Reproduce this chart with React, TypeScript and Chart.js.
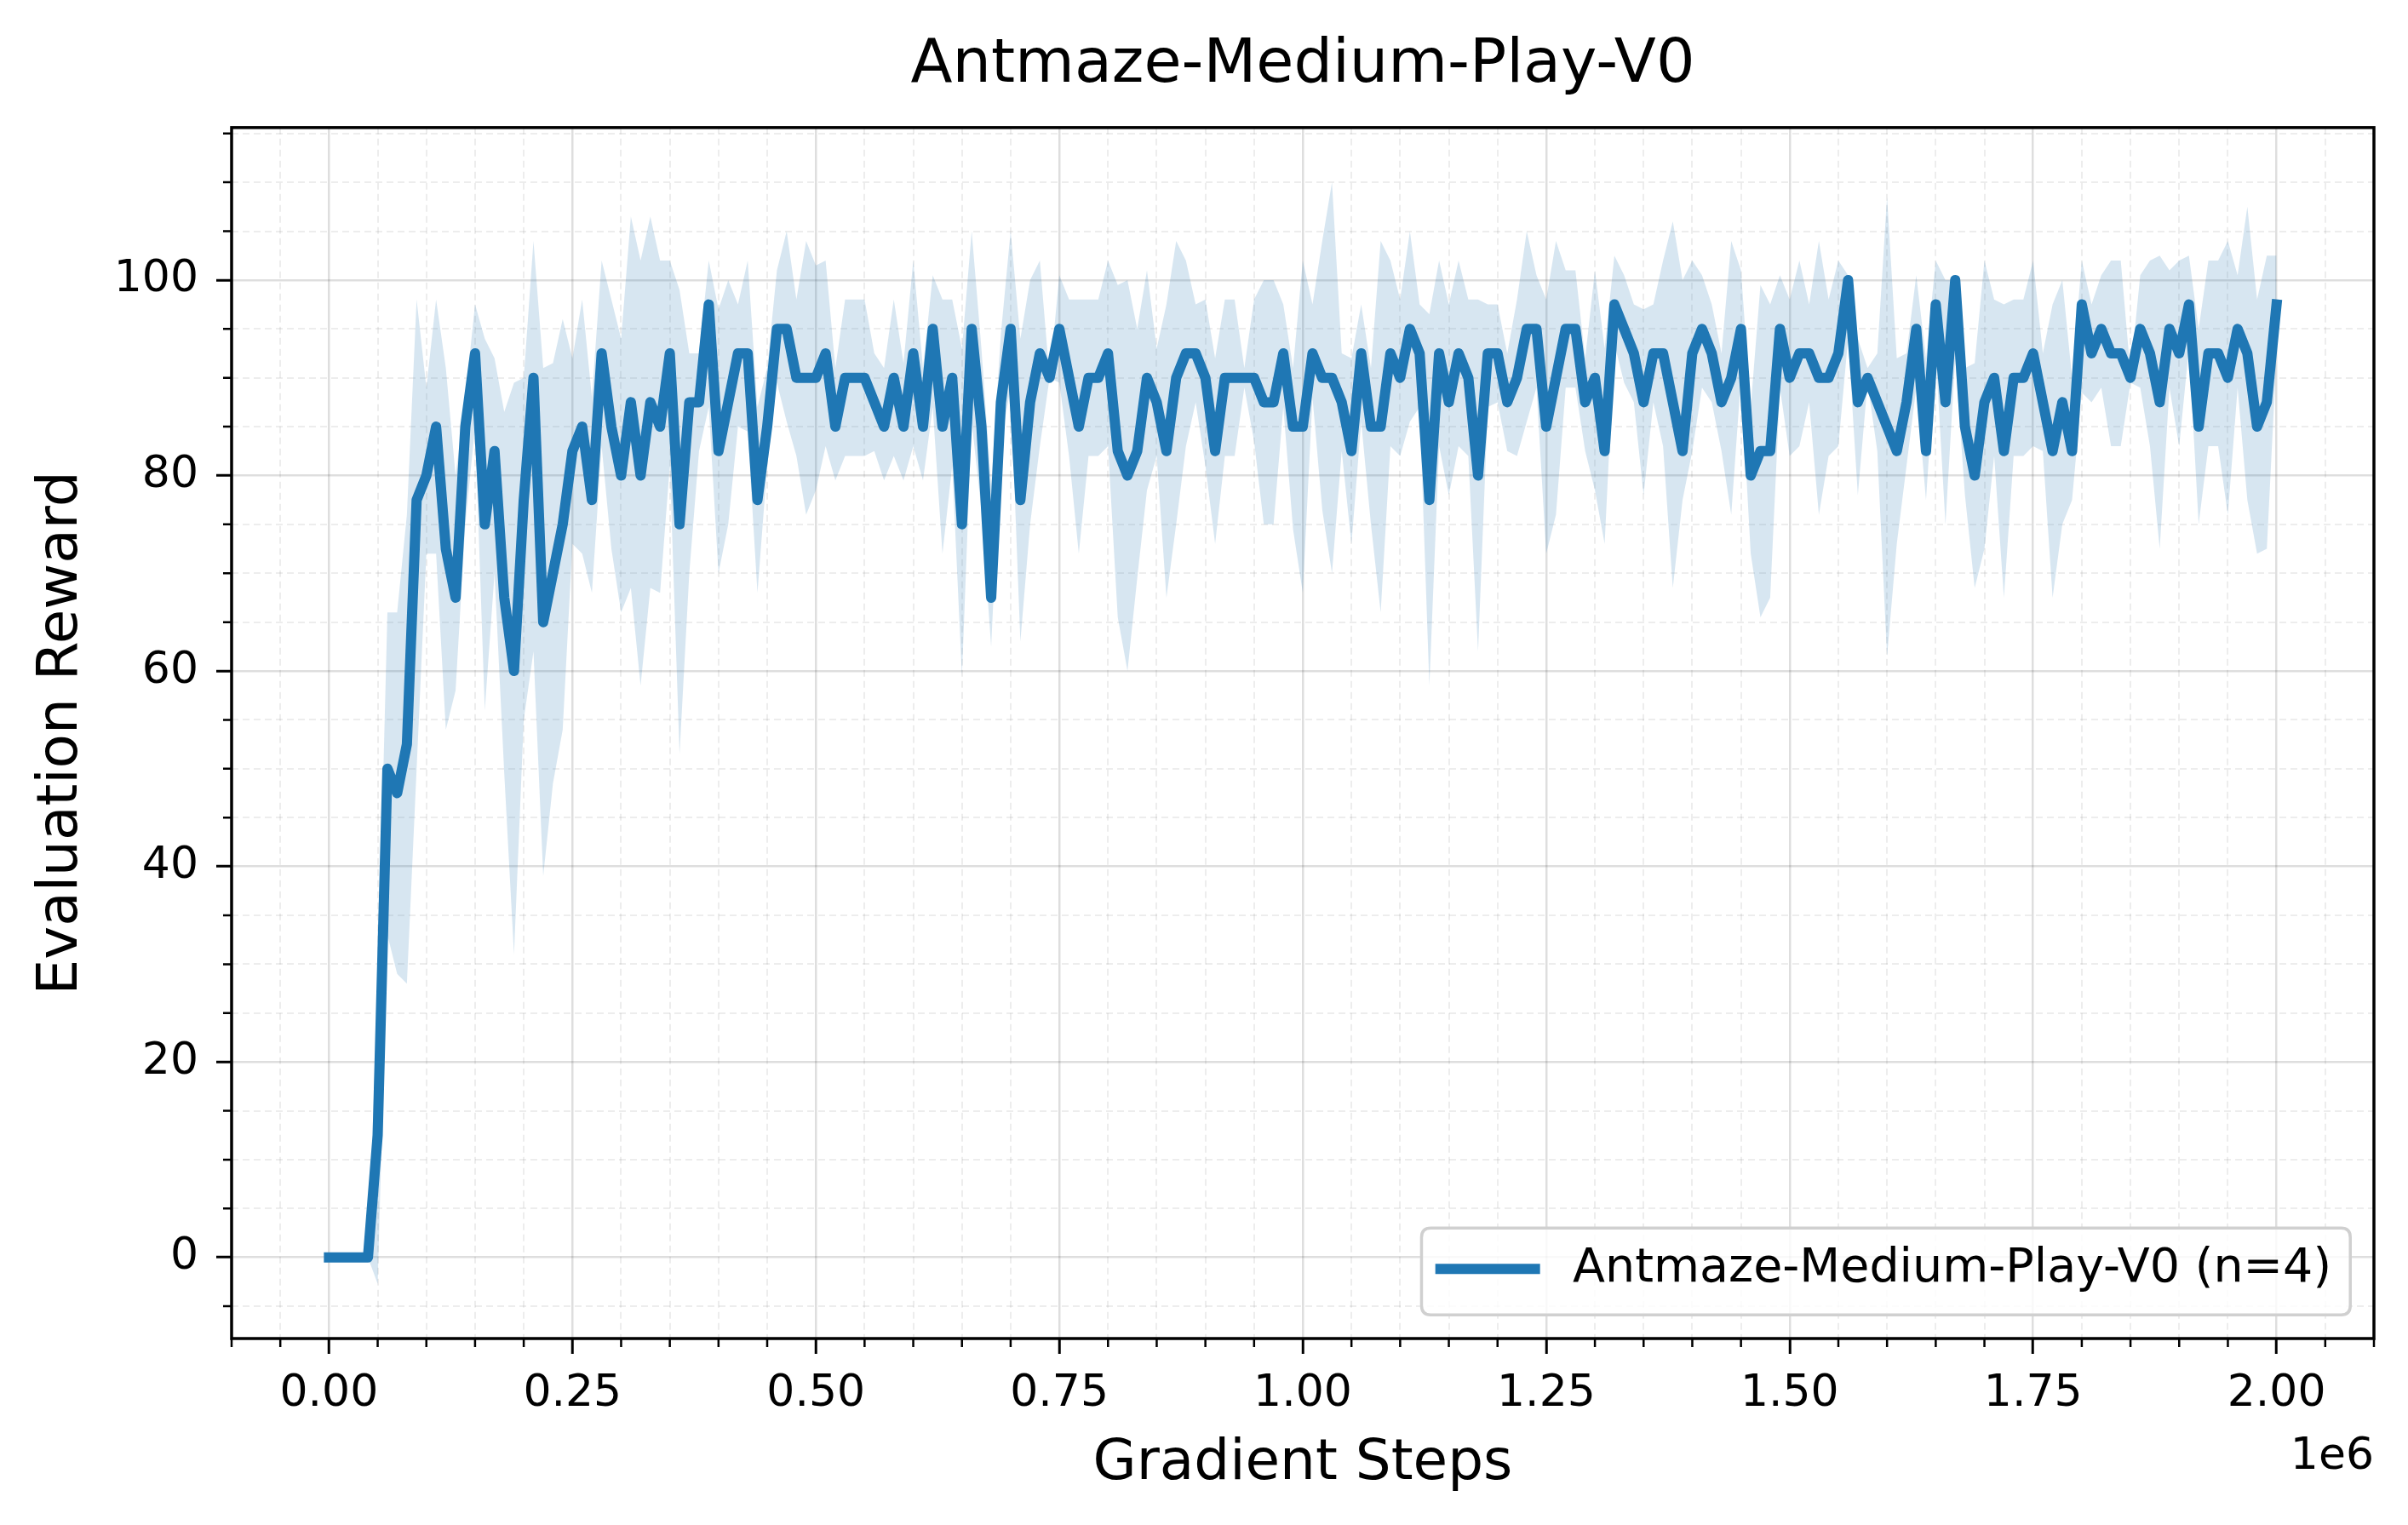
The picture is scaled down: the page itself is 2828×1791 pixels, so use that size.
import React, { useEffect, useRef } from 'react';
import { Chart, registerables } from 'chart.js';

Chart.register(...registerables);

const TITLE = 'Antmaze-Medium-Play-V0';
const SERIES_LABEL = 'Antmaze-Medium-Play-V0 (n=4)';
const X_LABEL = 'Gradient Steps';
const Y_LABEL = 'Evaluation Reward';
const X_OFFSET_LABEL = '1e6';
const EVAL_INTERVAL = 10000;

const MEAN = [
  0, 0, 0, 0, 0, 12.5, 50, 47.5, 52.5, 77.5,
  80, 85, 72.5, 67.5, 85, 92.5, 75, 82.5, 67.5, 60,
  77.5, 90, 65, 70, 75, 82.5, 85, 77.5, 92.5, 85,
  80, 87.5, 80, 87.5, 85, 92.5, 75, 87.5, 87.5, 97.5,
  82.5, 87.5, 92.5, 92.5, 77.5, 85, 95, 95, 90, 90,
  90, 92.5, 85, 90, 90, 90, 87.5, 85, 90, 85,
  92.5, 85, 95, 85, 90, 75, 95, 85, 67.5, 87.5,
  95, 77.5, 87.5, 92.5, 90, 95, 90, 85, 90, 90,
  92.5, 82.5, 80, 82.5, 90, 87.5, 82.5, 90, 92.5, 92.5,
  90, 82.5, 90, 90, 90, 90, 87.5, 87.5, 92.5, 85,
  85, 92.5, 90, 90, 87.5, 82.5, 92.5, 85, 85, 92.5,
  90, 95, 92.5, 77.5, 92.5, 87.5, 92.5, 90, 80, 92.5,
  92.5, 87.5, 90, 95, 95, 85, 90, 95, 95, 87.5,
  90, 82.5, 97.5, 95, 92.5, 87.5, 92.5, 92.5, 87.5, 82.5,
  92.5, 95, 92.5, 87.5, 90, 95, 80, 82.5, 82.5, 95,
  90, 92.5, 92.5, 90, 90, 92.5, 100, 87.5, 90, 87.5,
  85, 82.5, 87.5, 95, 82.5, 97.5, 87.5, 100, 85, 80,
  87.5, 90, 82.5, 90, 90, 92.5, 87.5, 82.5, 87.5, 82.5,
  97.5, 92.5, 95, 92.5, 92.5, 90, 95, 92.5, 87.5, 95,
  92.5, 97.5, 85, 92.5, 92.5, 90, 95, 92.5, 85, 87.5,
  97.5,
];

const UPPER = [
  0, 0, 0, 0, 0, 27, 66, 66, 76, 98,
  89, 98, 91, 80, 88, 97.5, 94, 92, 86.5, 89.5,
  90, 104, 91, 91.5, 96, 92, 98, 88, 102, 98,
  94, 106.5, 102, 106.5, 102, 102, 99, 92.5, 92.5, 102,
  97, 100, 97.5, 102, 87, 91, 101, 105, 98, 104,
  101.5, 102, 91, 98, 98, 98, 92.5, 91, 98, 91.5,
  102, 91, 100.5, 98, 98, 93, 105, 93, 79, 94.5,
  105, 94, 100, 102, 90, 100.5, 98, 98, 98, 98,
  102, 99.5, 100, 95, 101, 93, 97.5, 104, 102, 97.5,
  98, 92, 98, 98, 91, 98, 100, 100, 97.5, 91,
  102, 97.5, 104, 110, 92.5, 92, 97.5, 91, 104, 102,
  98, 105, 97.5, 96.5, 102, 97.5, 102, 98, 98, 97.5,
  97.5, 92.5, 98, 105, 100.5, 98, 104, 101, 101, 92,
  101, 93, 102.5, 100.5, 97.5, 97, 97.5, 102, 106, 100,
  102, 100.5, 97.5, 92.5, 104, 101, 87, 99.5, 97.5, 100.5,
  98, 102, 97.5, 104, 98, 102, 100.5, 94, 91, 92.5,
  108.5, 92, 92.5, 100.5, 92, 102, 100, 100, 91, 91.5,
  102, 98, 97.5, 98, 98, 102, 92.5, 97.5, 100, 90,
  102, 97.5, 100.5, 102, 102, 90.5, 100.5, 102, 102.5, 101,
  102, 102.5, 95, 102, 102, 104, 100.5, 107.5, 98, 102.5,
  102.5,
];

const LOWER = [
  0, 0, 0, 0, 0, -2.7, 33, 29, 28, 50,
  72, 72, 54, 58, 75, 85, 56, 70, 49.5, 31,
  55, 62, 39, 48.5, 54, 73, 72, 68, 83, 72.5,
  66, 68.5, 58.5, 68.5, 68, 81, 51.5, 70, 82.5, 87,
  70, 75, 85, 84.5, 68, 81, 89.5, 85.5, 82, 76,
  78.5, 83, 79.5, 82, 82, 82, 82.5, 79.5, 82, 79.5,
  83, 79.5, 87, 72, 81, 59.5, 85.5, 76.5, 62.5, 83.5,
  89, 63, 75, 83, 90, 89.5, 82, 72, 82, 82,
  83, 65.5, 60, 69.5, 78.5, 82, 67.5, 75, 83, 87.5,
  81, 73, 82, 82, 89, 83.5, 75, 75, 87, 74.5,
  68, 88, 76.5, 70, 82.5, 73, 85.5, 75, 66, 83,
  82, 85.5, 87, 58.5, 83, 78, 83, 82, 62, 87,
  87.5, 82.5, 82, 85.5, 89, 72, 76, 89, 89, 82.5,
  78.5, 73, 93.5, 89.5, 87.5, 78, 87.5, 83, 68.5, 77.5,
  82.5, 89, 87.5, 82.5, 76, 90, 72, 65.5, 67.5, 89,
  82, 83, 87.5, 76, 82, 83, 94, 78, 89.5, 82.5,
  61.5, 73, 81, 89, 77.5, 92.5, 75, 92, 78, 68.5,
  72.5, 82, 67.5, 82, 82, 83, 82.5, 67.5, 75, 77.5,
  88.5, 87.5, 89, 83, 83, 89.5, 89, 83, 72.5, 89,
  83, 93, 75, 83, 83, 76, 89, 77.5, 72, 72.5,
  92.5,
];

const X_TICKS = [
  -100000, -50000, 0, 50000, 100000, 150000, 200000, 250000, 300000, 350000,
  400000, 450000, 500000, 550000, 600000, 650000, 700000, 750000, 800000, 850000,
  900000, 950000, 1000000, 1050000, 1100000, 1150000, 1200000, 1250000, 1300000, 1350000,
  1400000, 1450000, 1500000, 1550000, 1600000, 1650000, 1700000, 1750000, 1800000, 1850000,
  1900000, 1950000, 2000000, 2050000, 2100000,
];
const Y_TICKS = [
  -5, 0, 5, 10, 15, 20, 25, 30, 35, 40, 45, 50, 55, 60, 65, 70, 75, 80, 85, 90, 95, 100, 105, 110, 115,
];
const X_MAJOR_STEP = 250000;
const Y_MAJOR_STEP = 20;
const X_MIN = -100000;
const X_MAX = 2100000;
const Y_MIN = -8.3;
const Y_MAX = 115.6;

const FONT = 'DejaVu Sans';
const LINE_COLOR = '#1f77b4';
const BAND_COLOR = 'rgba(31,119,180,0.18)';

const isMajorX = (v: number) => Math.abs(v % X_MAJOR_STEP) < 1e-6;
const isMajorY = (v: number) => Math.abs(v % Y_MAJOR_STEP) < 1e-9;

const toPoints = (arr: number[]) => arr.map((y, i) => ({ x: i * EVAL_INTERVAL, y }));

const decorPlugin = {
  id: 'decor',
  afterDraw(chart: any) {
    const { ctx, chartArea: a, scales } = chart;
    const xs = scales.x;
    const ys = scales.y;
    ctx.save();
    // minor tick marks
    ctx.strokeStyle = '#000';
    ctx.lineWidth = 2.5;
    ctx.beginPath();
    for (const v of X_TICKS) {
      if (isMajorX(v)) continue;
      const px = xs.getPixelForValue(v);
      ctx.moveTo(px, a.bottom);
      ctx.lineTo(px, a.bottom + 10);
    }
    for (const v of Y_TICKS) {
      if (isMajorY(v)) continue;
      const py = ys.getPixelForValue(v);
      ctx.moveTo(a.left, py);
      ctx.lineTo(a.left - 10, py);
    }
    ctx.stroke();
    // spines
    ctx.lineWidth = 3.5;
    ctx.strokeRect(a.left, a.top, a.right - a.left, a.bottom - a.top);

    // legend
    const fs = 55.5;
    ctx.font = `${fs}px "${FONT}"`;
    const tw = ctx.measureText(SERIES_LABEL).width;
    const pad = 0.4 * fs;
    const handle = 2 * fs;
    const gap = 0.8 * fs;
    const bw = pad + handle + gap + tw + pad;
    const bh = 102;
    const bx = a.right - 0.5 * fs - bw;
    const by = a.bottom - 0.5 * fs - bh;
    const r = 11;
    ctx.beginPath();
    ctx.moveTo(bx + r, by);
    ctx.lineTo(bx + bw - r, by);
    ctx.quadraticCurveTo(bx + bw, by, bx + bw, by + r);
    ctx.lineTo(bx + bw, by + bh - r);
    ctx.quadraticCurveTo(bx + bw, by + bh, bx + bw - r, by + bh);
    ctx.lineTo(bx + r, by + bh);
    ctx.quadraticCurveTo(bx, by + bh, bx, by + bh - r);
    ctx.lineTo(bx, by + r);
    ctx.quadraticCurveTo(bx, by, bx + r, by);
    ctx.closePath();
    ctx.fillStyle = 'rgba(255,255,255,0.8)';
    ctx.fill();
    ctx.strokeStyle = '#d0d0d0';
    ctx.lineWidth = 3.5;
    ctx.stroke();
    const cy = by + bh / 2 - 3;
    ctx.beginPath();
    ctx.strokeStyle = LINE_COLOR;
    ctx.lineWidth = 12;
    ctx.lineCap = 'square';
    ctx.moveTo(bx + pad, cy);
    ctx.lineTo(bx + pad + handle, cy);
    ctx.stroke();
    ctx.fillStyle = '#000';
    ctx.textAlign = 'left';
    ctx.textBaseline = 'middle';
    ctx.fillText(SERIES_LABEL, bx + pad + handle + gap, cy);

    // offset label
    ctx.font = `52px "${FONT}"`;
    ctx.textAlign = 'right';
    ctx.textBaseline = 'middle';
    ctx.fillText(X_OFFSET_LABEL, a.right, 1711);
    ctx.restore();
  },
};

export default function App() {
  const canvasRef = useRef<HTMLCanvasElement | null>(null);

  useEffect(() => {
    const canvas = canvasRef.current;
    if (!canvas) return;
    const chart = new Chart(canvas, {
      type: 'line',
      data: {
        datasets: [
          {
            label: SERIES_LABEL,
            data: toPoints(MEAN),
            borderColor: LINE_COLOR,
            backgroundColor: LINE_COLOR,
            borderWidth: 12,
            pointRadius: 0,
            tension: 0,
            fill: false,
            borderCapStyle: 'square',
            borderJoinStyle: 'round',
          },
          {
            label: 'upper',
            data: toPoints(UPPER),
            borderColor: 'rgba(0,0,0,0)',
            borderWidth: 0,
            pointRadius: 0,
            tension: 0,
            fill: '+1',
            backgroundColor: BAND_COLOR,
          },
          {
            label: 'lower',
            data: toPoints(LOWER),
            borderColor: 'rgba(0,0,0,0)',
            borderWidth: 0,
            pointRadius: 0,
            tension: 0,
            fill: false,
          },
        ],
      },
      options: {
        animation: false,
        responsive: false,
        devicePixelRatio: 1,
        layout: { padding: { top: 0, right: 40, bottom: 0, left: 0 } },
        plugins: {
          legend: { display: false },
          tooltip: { enabled: false },
          title: {
            display: true,
            fullSize: false,
            text: TITLE,
            color: '#000',
            font: { family: FONT, size: 71.7, weight: 'normal' },
            padding: { top: 34.4, bottom: 29.4 },
          },
        },
        scales: {
          x: {
            type: 'linear',
            min: X_MIN,
            max: X_MAX,
            bounds: 'data',
            afterBuildTicks: (s: any) => {
              s.ticks = X_TICKS.map((v) => ({ value: v }));
            },
            afterFit: (s: any) => {
              s.height = 219;
            },
            ticks: {
              autoSkip: false,
              maxRotation: 0,
              minRotation: 0,
              padding: 16,
              color: '#000',
              font: { family: FONT, size: 52 },
              callback: (v: any) => (isMajorX(Number(v)) ? (Number(v) / 1e6).toFixed(2) : ''),
            },
            grid: {
              drawTicks: true,
              tickLength: 18,
              color: (c: any) => (c.tick && isMajorX(c.tick.value) ? 'rgba(0,0,0,0.13)' : 'rgba(0,0,0,0.07)'),
              lineWidth: (c: any) => (c.tick && isMajorX(c.tick.value) ? 2.5 : 2),
              tickColor: (c: any) => (c.tick && isMajorX(c.tick.value) ? '#000' : 'rgba(0,0,0,0)'),
              tickWidth: 3,
            },
            border: {
              display: false,
              dash: (c: any) => (c.tick && isMajorX(c.tick.value) ? [] : [8, 5]),
            },
            title: {
              display: true,
              text: X_LABEL,
              color: '#000',
              font: { family: FONT, size: 66 },
              padding: { top: 0, bottom: 32 },
            },
          },
          y: {
            type: 'linear',
            min: Y_MIN,
            max: Y_MAX,
            bounds: 'data',
            afterBuildTicks: (s: any) => {
              s.ticks = Y_TICKS.map((v) => ({ value: v }));
            },
            afterFit: (s: any) => {
              s.width = 272;
            },
            ticks: {
              autoSkip: false,
              padding: 21,
              color: '#000',
              font: { family: FONT, size: 52 },
              callback: (v: any) => (isMajorY(Number(v)) ? String(Number(v)) : ''),
            },
            grid: {
              drawTicks: true,
              tickLength: 18,
              color: (c: any) => (c.tick && isMajorY(c.tick.value) ? 'rgba(0,0,0,0.13)' : 'rgba(0,0,0,0.07)'),
              lineWidth: (c: any) => (c.tick && isMajorY(c.tick.value) ? 2.5 : 2),
              tickColor: (c: any) => (c.tick && isMajorY(c.tick.value) ? '#000' : 'rgba(0,0,0,0)'),
              tickWidth: 3,
            },
            border: {
              display: false,
              dash: (c: any) => (c.tick && isMajorY(c.tick.value) ? [] : [8, 5]),
            },
            title: {
              display: true,
              text: Y_LABEL,
              color: '#000',
              font: { family: FONT, size: 66 },
              padding: { top: 33, bottom: 0 },
            },
          },
        },
      },
      plugins: [decorPlugin],
    } as any);
    return () => chart.destroy();
  }, []);

  return (
    <div style={{ position: 'fixed', left: 0, top: 0, width: 2828, height: 1791, background: '#fff' }}>
      <canvas ref={canvasRef} width={2828} height={1791} style={{ display: 'block', width: 2828, height: 1791 }} />
    </div>
  );
}
